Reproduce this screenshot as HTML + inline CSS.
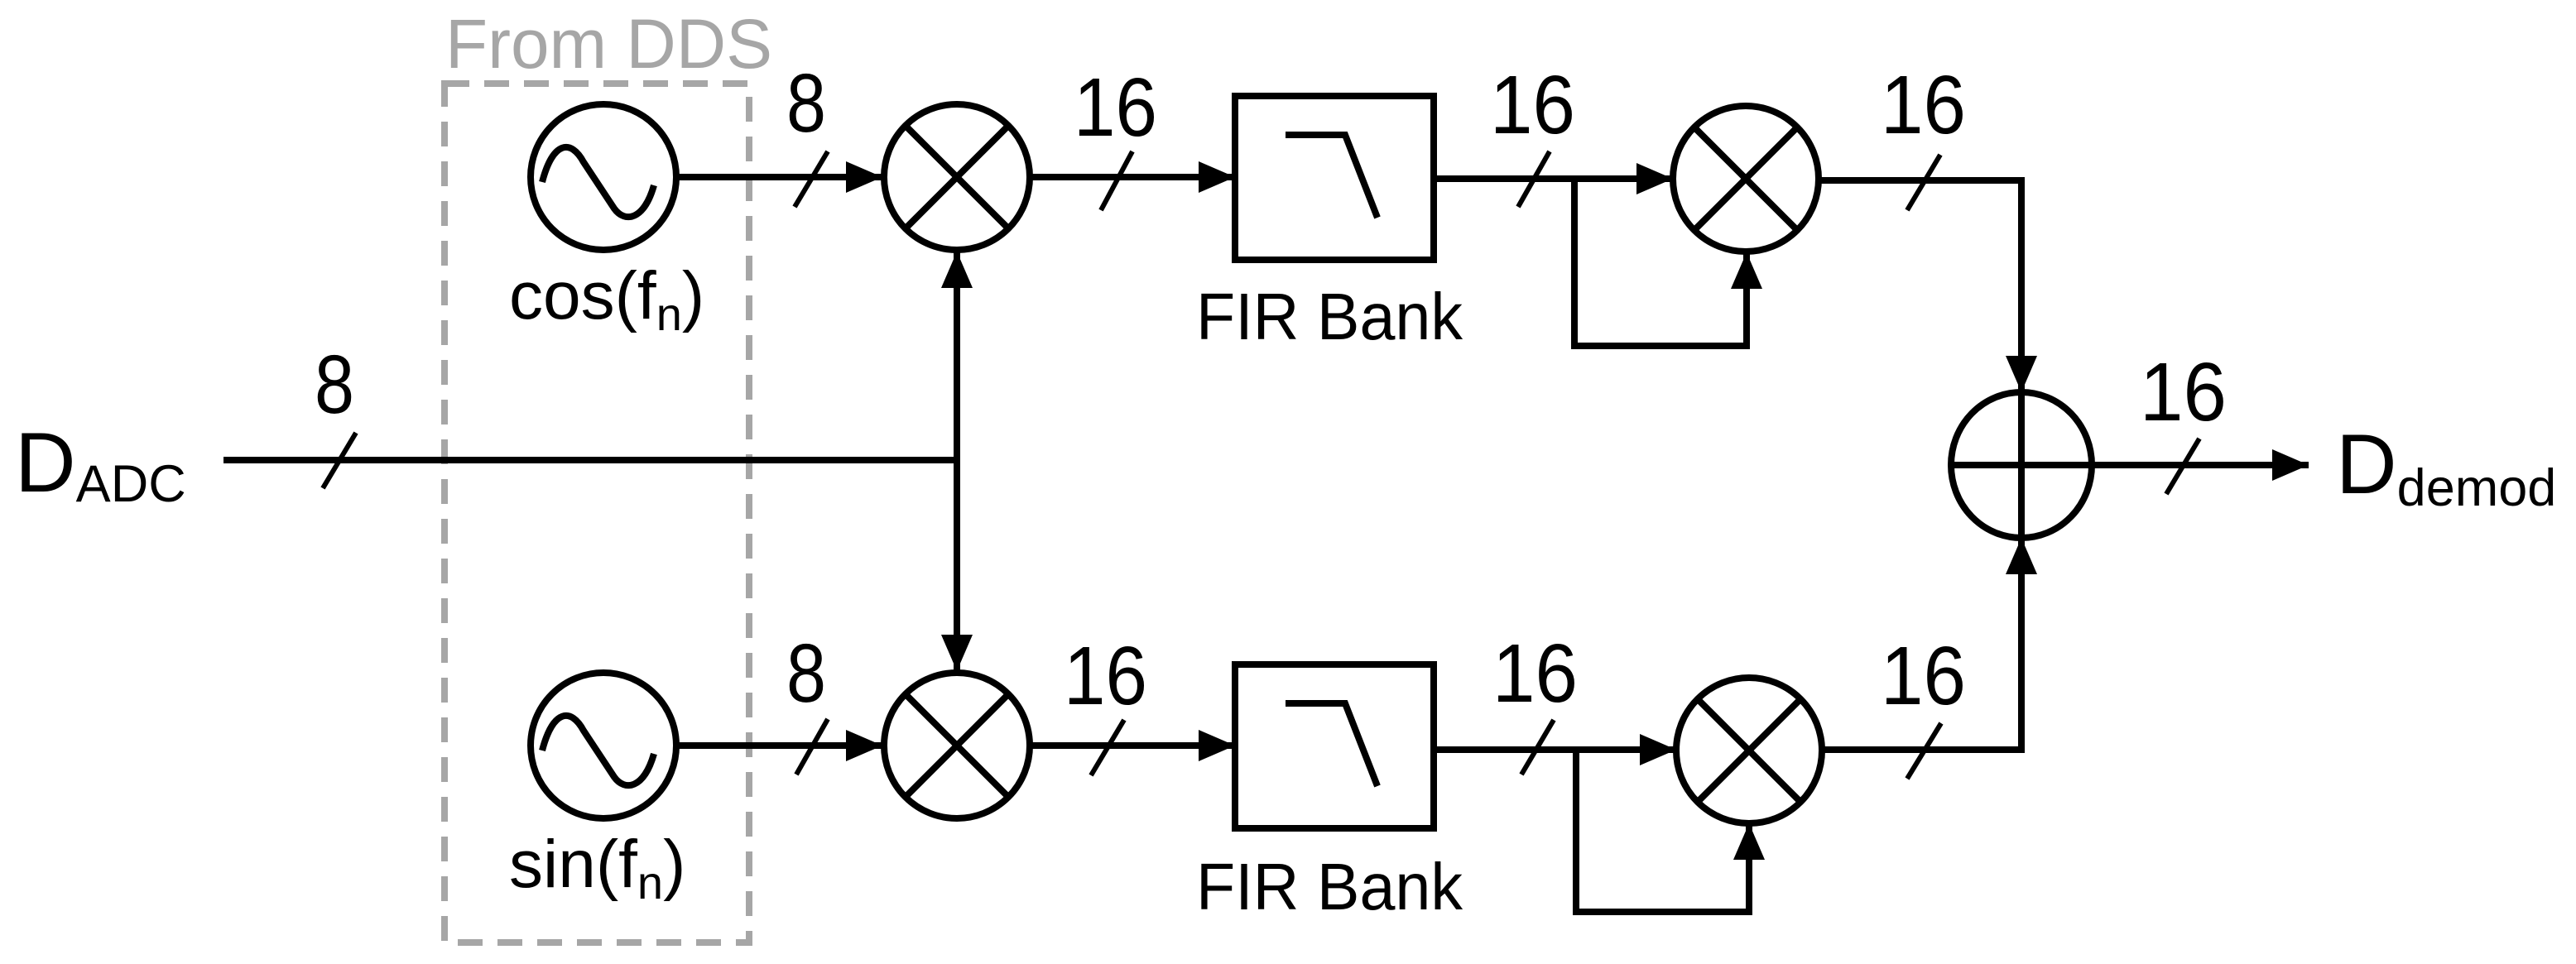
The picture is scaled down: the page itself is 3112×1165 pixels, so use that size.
<!DOCTYPE html>
<html><head><meta charset="utf-8"><style>html,body{margin:0;padding:0;background:#fff}svg{display:block}</style></head>
<body>
<svg width="3112" height="1165" viewBox="0 0 3112 1165" xmlns="http://www.w3.org/2000/svg" font-family="Liberation Sans, Arial, sans-serif">
<defs>
<marker id="ah" markerWidth="44" markerHeight="38" refX="44" refY="19" orient="auto" markerUnits="userSpaceOnUse">
<path d="M0,0 L44,19 L0,38 Z" fill="#000"/>
</marker>
</defs>
<rect x="537" y="101" width="368" height="1038" fill="none" stroke="#a6a6a6" stroke-width="8" stroke-dasharray="30 18"/>
<text x="538" y="82" font-size="84" fill="#a6a6a6" textLength="395" lengthAdjust="spacingAndGlyphs">From DDS</text>

<g stroke="#000" stroke-width="8" fill="none">
<circle cx="729" cy="214" r="88"/>
<path d="M655,220 C668,170 690,168 705,196 L742,252 C755,270 778,266 790,224" stroke-width="8"/>
<circle cx="729" cy="901" r="88"/>
<path d="M655,907 C668,857 690,855 705,883 L742,939 C755,957 778,953 790,911" stroke-width="8"/>

<line x1="817" y1="214" x2="1066" y2="214" marker-end="url(#ah)"/>
<line x1="817" y1="901" x2="1066" y2="901" marker-end="url(#ah)"/>

<circle cx="1156" cy="214" r="88"/>
<line x1="1094" y1="152" x2="1218" y2="276"/><line x1="1218" y1="152" x2="1094" y2="276"/>
<circle cx="1156" cy="901" r="88"/>
<line x1="1094" y1="839" x2="1218" y2="963"/><line x1="1218" y1="839" x2="1094" y2="963"/>

<line x1="270" y1="556" x2="1160" y2="556"/>
<line x1="1156" y1="556" x2="1156" y2="304" marker-end="url(#ah)"/>
<line x1="1156" y1="556" x2="1156" y2="811" marker-end="url(#ah)"/>

<line x1="1244" y1="214" x2="1492" y2="214" marker-end="url(#ah)"/>
<line x1="1244" y1="901" x2="1492" y2="901" marker-end="url(#ah)"/>

<rect x="1492" y="116" width="240" height="198"/>
<path d="M1553,163 L1625,163 L1664,263"/>
<rect x="1492" y="803" width="240" height="198"/>
<path d="M1553,850 L1625,850 L1664,950"/>

<line x1="1732" y1="216" x2="2021" y2="216" marker-end="url(#ah)"/>
<polyline points="1902,216 1902,418 2110,418"/>
<line x1="2110" y1="422" x2="2110" y2="305" marker-end="url(#ah)"/>
<line x1="1732" y1="906" x2="2025" y2="906" marker-end="url(#ah)"/>
<polyline points="1904,906 1904,1102 2113,1102"/>
<line x1="2113" y1="1106" x2="2113" y2="995" marker-end="url(#ah)"/>

<circle cx="2109" cy="216" r="88"/>
<line x1="2047" y1="154" x2="2171" y2="278"/><line x1="2171" y1="154" x2="2047" y2="278"/>
<circle cx="2113" cy="907" r="88"/>
<line x1="2051" y1="845" x2="2175" y2="969"/><line x1="2175" y1="845" x2="2051" y2="969"/>

<polyline points="2197,218 2442,218 2442,430"/>
<line x1="2442" y1="420" x2="2442" y2="474" marker-end="url(#ah)"/>
<polyline points="2201,906 2442,906 2442,690"/>
<line x1="2442" y1="700" x2="2442" y2="650" marker-end="url(#ah)"/>

<ellipse cx="2442" cy="562" rx="85" ry="88"/>
<line x1="2357" y1="562" x2="2527" y2="562"/><line x1="2442" y1="474" x2="2442" y2="650"/>
<line x1="2527" y1="562" x2="2789" y2="562" marker-end="url(#ah)"/>

<line x1="390" y1="590" x2="430" y2="523" stroke-width="6"/>
<line x1="960" y1="250" x2="1000" y2="183" stroke-width="6"/>
<line x1="962" y1="936" x2="1000" y2="869" stroke-width="6"/>
<line x1="1330" y1="254" x2="1368" y2="183" stroke-width="6"/>
<line x1="1318" y1="937" x2="1358" y2="870" stroke-width="6"/>
<line x1="1834" y1="250" x2="1872" y2="183" stroke-width="6"/>
<line x1="1838" y1="936" x2="1877" y2="870" stroke-width="6"/>
<line x1="2304" y1="254" x2="2344" y2="187" stroke-width="6"/>
<line x1="2304" y1="941" x2="2345" y2="874" stroke-width="6"/>
<line x1="2617" y1="597" x2="2657" y2="530" stroke-width="6"/>
</g>

<g font-size="100" fill="#000" lengthAdjust="spacingAndGlyphs">
<text x="380" y="499" textLength="48" lengthAdjust="spacingAndGlyphs">8</text>
<text x="950" y="159" textLength="48" lengthAdjust="spacingAndGlyphs">8</text>
<text x="950" y="848" textLength="48" lengthAdjust="spacingAndGlyphs">8</text>
<text x="1297" y="164" textLength="101" lengthAdjust="spacingAndGlyphs">16</text>
<text x="1285" y="851" textLength="101" lengthAdjust="spacingAndGlyphs">16</text>
<text x="1800" y="161" textLength="103" lengthAdjust="spacingAndGlyphs">16</text>
<text x="1803" y="848" textLength="103" lengthAdjust="spacingAndGlyphs">16</text>
<text x="2272" y="161" textLength="103" lengthAdjust="spacingAndGlyphs">16</text>
<text x="2272" y="851" textLength="103" lengthAdjust="spacingAndGlyphs">16</text>
<text x="2585" y="508" textLength="105" lengthAdjust="spacingAndGlyphs">16</text>
</g>
<g font-size="80" fill="#000">
<text x="1445" y="410" textLength="322" lengthAdjust="spacingAndGlyphs">FIR Bank</text>
<text x="1445" y="1099" textLength="322" lengthAdjust="spacingAndGlyphs">FIR Bank</text>
</g>
<g font-size="82" fill="#000">
<text x="615" y="385">cos(f<tspan font-size="56" dy="14">n</tspan><tspan dy="-14">)</tspan></text>
<text x="615" y="1072">sin(f<tspan font-size="56" dy="14">n</tspan><tspan dy="-14">)</tspan></text>
</g>
<text x="18" y="594" font-size="102">D<tspan font-size="63" dy="12">ADC</tspan></text>
<text x="2822" y="596" font-size="102">D<tspan font-size="63" dy="15">demod</tspan></text>
</svg>
</body></html>
